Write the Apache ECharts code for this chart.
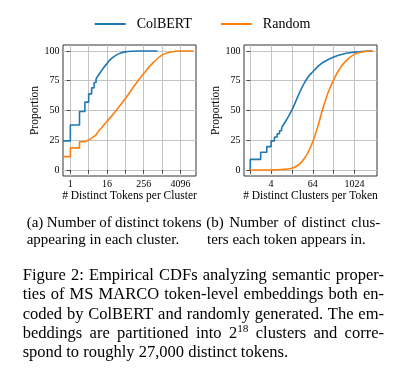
<!DOCTYPE html>
<html><head><meta charset="utf-8">
<script src="https://cdn.jsdelivr.net/npm/echarts@6/dist/echarts.min.js"></script>
<style>html,body{margin:0;padding:0;background:#fff}#c{width:405px;height:374px}</style>
</head><body><div id="c"></div>
<script>
// ---------------- data ----------------
const seriesNames = ['ColBERT', 'Random'];
const yTicks = [0, 25, 50, 75, 100];
const xTicksA = [1, 4, 16, 64, 256, 1024, 4096];
const xLabelsA = [1, 16, 256, 4096];
const xTicksB = [1, 4, 16, 64, 256, 1024];
const xLabelsB = [4, 64, 1024];
const xNameA = '# Distinct Tokens per Cluster';
const xNameB = '# Distinct Clusters per Token';
const yName = 'Proportion';

// (a) distinct tokens per cluster — ECDF in %, level to the right of each count (0 = left of axis)
const colbertA_stepCounts = [0, 1, 2, 3, 4, 5, 6, 7, 8];
const colbertA_stepCdf    = [24.5, 37.8, 49.2, 57, 64, 69, 73.5, 76.5, 79];
const colbertA_tailCounts = [8, 10, 12, 16, 20, 25, 32, 45, 64, 100, 160, 724];
const colbertA_tailCdf    = [79, 82.5, 85.5, 89.5, 92.5, 94.7, 96.5, 98.2, 99.2, 99.8, 100, 100];
const randomA_stepCounts  = [0, 1, 2, 3, 4, 5, 6, 7, 8];
const randomA_stepCdf     = [11.3, 18.6, 23.7, 25.3, 26.8, 28.2, 29.5, 30.7, 32];
const randomA_tailCounts  = [8, 11, 16, 23, 32, 64, 128, 256, 512, 1024, 2048, 4096, 11000];
const randomA_tailCdf     = [32, 36, 41, 45.5, 50, 60, 71, 81, 90, 96.5, 99.2, 100, 100];

// (b) distinct clusters per token
const colbertB_stepCounts = [1, 1, 2, 3, 4, 5, 6, 7, 8];
const colbertB_stepCdf    = [0, 9, 15, 19.7, 24.5, 27.7, 30.5, 33, 35.5];
const colbertB_tailCounts = [8, 11, 16, 23, 32, 45, 64, 90, 128, 256, 512, 1024, 2048, 3300];
const colbertB_tailCdf    = [35.5, 42, 50.5, 61, 70, 77.5, 82.5, 87, 90.5, 95, 97.7, 99, 99.8, 100];
const randomB_counts      = [1, 4, 8, 16, 24, 32, 45, 64, 90, 128, 181, 256, 362, 512, 1024, 2048, 3500];
const randomB_cdf         = [0, 0.1, 0.4, 1.5, 4, 7.5, 14, 24, 37, 53, 66, 76, 84, 90, 97.3, 99.6, 100];

// captions
const subCapA = ['(a) Number of distinct tokens', 'appearing in each cluster.'];
const subCapB = ['(b) Number of distinct clus-', 'ters each token appears in.'];
const figCap = [
  'Figure 2: Empirical CDFs analyzing semantic proper-',
  'ties of MS MARCO token-level embeddings both en-',
  'coded by ColBERT and randomly generated. The em-',
  'beddings are partitioned into 2^18 clusters and corre-',
  'spond to roughly 27,000 distinct tokens.'
];

// ---------------- layout / style ----------------
const SERIF = '"Liberation Serif", "Times New Roman", serif';
const BLUE = '#1f77b4', ORANGE = '#ff7f0e';
const xRangeA = [-0.8, 13.7], xRangeB = [-0.6, 12.15], yRange = [-5, 105];
const grids = [
  {left: 63, top: 45, width: 133, height: 131},
  {left: 244, top: 45, width: 133, height: 131}
];

const toPts = (counts, cdf, xMin) => counts.map((c, i) => [c > 0 ? Math.log2(c) : xMin, cdf[i]]);

function xAxisCfg(gi, range, ticks, labels, name) {
  return {
    type: 'value', gridIndex: gi, min: range[0], max: range[1],
    name, nameLocation: 'middle', nameGap: 12,
    nameTextStyle: {fontFamily: SERIF, fontSize: 11.5, color: '#000'},
    axisLine: {show: false},
    axisTick: {show: true, inside: false, length: 3.5, lineStyle: {color: '#222', width: 0.8},
      customValues: ticks.map(Math.log2)},
    axisLabel: {customValues: labels.map(Math.log2), margin: 3,
      formatter: v => String(Math.round(Math.pow(2, v))),
      fontFamily: SERIF, fontSize: 10, color: '#000'},
    splitLine: {show: true, lineStyle: {color: '#c4c4c4', width: 1}}
  };
}
function yAxisCfg(gi) {
  return {
    type: 'value', gridIndex: gi, min: yRange[0], max: yRange[1],
    name: yName, nameLocation: 'middle', nameGap: 21,
    nameTextStyle: {fontFamily: SERIF, fontSize: 11.5, color: '#000'},
    axisLine: {show: false},
    axisTick: {show: true, inside: false, length: 3.5, lineStyle: {color: '#222', width: 0.8},
      customValues: yTicks},
    axisLabel: {customValues: yTicks, margin: 3.5, fontFamily: SERIF, fontSize: 10, color: '#000'},
    splitLine: {show: true, lineStyle: {color: '#c4c4c4', width: 1}}
  };
}
function lineSeries(name, color, data, gi, step) {
  const s = {
    name, type: 'line', xAxisIndex: gi, yAxisIndex: gi, data,
    showSymbol: false, symbol: 'none', clip: true, animation: false,
    lineStyle: {color, width: 1.6}, itemStyle: {color}, emphasis: {disabled: true}
  };
  if (step) s.step = 'end';
  else { s.smooth = 0.4; }
  return s;
}

// ---------------- text layout helpers ----------------
const mctx = document.createElement('canvas').getContext('2d');
function measure(t, size) { mctx.font = size + 'px ' + SERIF; return mctx.measureText(t).width; }
function textLine(str, x0, x1, baseline, size, justify) {
  const words = str.split(' ').map(w => {
    if (w.includes('^')) {
      const [b, s] = w.split('^');
      const ss = size * 0.68;
      return {parts: [{t: b, s: size, dy: 0}, {t: s, s: ss, dy: -size * 0.38}]};
    }
    return {parts: [{t: w, s: size, dy: 0}]};
  });
  words.forEach(w => { w.w = w.parts.reduce((a, p) => a + measure(p.t, p.s), 0); });
  const total = words.reduce((a, w) => a + w.w, 0);
  let gap = measure(' ', size);
  if (justify && words.length > 1) gap = (x1 - x0 - total) / (words.length - 1);
  const els = [];
  let x = x0;
  words.forEach(w => {
    let px = x;
    w.parts.forEach(p => {
      els.push({type: 'text', x: px, y: baseline + p.dy - 0.305 * p.s, silent: true,
        style: {text: p.t, fontFamily: SERIF, fontSize: p.s, fill: '#000',
          align: 'left', verticalAlign: 'middle'}});
      px += measure(p.t, p.s);
    });
    x += w.w + gap;
  });
  return els;
}

const graphics = [];
graphics.push(...textLine(subCapA[0], 26.7, 201.7, 228, 15, true));
graphics.push(...textLine(subCapA[1], 26.7, 0, 245, 15, false));
graphics.push(...textLine(subCapB[0], 206.3, 380.3, 228, 15, true));
graphics.push(...textLine(subCapB[1], 207, 0, 245, 15, false));
const capBase = [280.5, 300, 319.3, 338.7, 358];
figCap.forEach((l, i) => {
  graphics.push(...textLine(l, 22.7, 384, capBase[i], 16.5, i < figCap.length - 1));
});

// ---------------- chart ----------------
const chart = echarts.init(document.getElementById('c'), null, {renderer: 'canvas'});
chart.setOption({
  animation: false,
  backgroundColor: '#fff',
  legend: {
    data: seriesNames, top: 12, left: 'center', icon: 'rect',
    itemWidth: 31, itemHeight: 2, itemGap: 29,
    textStyle: {fontFamily: SERIF, fontSize: 14, color: '#000', padding: [0, 0, 0, 6]}
  },
  grid: grids.map(g => Object.assign({show: true, borderColor: '#333', borderWidth: 1,
    backgroundColor: 'transparent', outerBoundsMode: 'none', containLabel: false}, g)),
  xAxis: [xAxisCfg(0, xRangeA, xTicksA, xLabelsA, xNameA), xAxisCfg(1, xRangeB, xTicksB, xLabelsB, xNameB)],
  yAxis: [yAxisCfg(0), yAxisCfg(1)],
  series: [
    lineSeries(seriesNames[0], BLUE, toPts(colbertA_stepCounts, colbertA_stepCdf, xRangeA[0]), 0, true),
    lineSeries(seriesNames[0], BLUE, toPts(colbertA_tailCounts, colbertA_tailCdf, xRangeA[0]), 0, false),
    lineSeries(seriesNames[1], ORANGE, toPts(randomA_stepCounts, randomA_stepCdf, xRangeA[0]), 0, true),
    lineSeries(seriesNames[1], ORANGE, toPts(randomA_tailCounts, randomA_tailCdf, xRangeA[0]), 0, false),
    lineSeries(seriesNames[0], BLUE, toPts(colbertB_stepCounts, colbertB_stepCdf, xRangeB[0]), 1, true),
    lineSeries(seriesNames[0], BLUE, toPts(colbertB_tailCounts, colbertB_tailCdf, xRangeB[0]), 1, false),
    lineSeries(seriesNames[1], ORANGE, toPts(randomB_counts, randomB_cdf, xRangeB[0]), 1, false)
  ],
  graphic: graphics
});
</script></body></html>
